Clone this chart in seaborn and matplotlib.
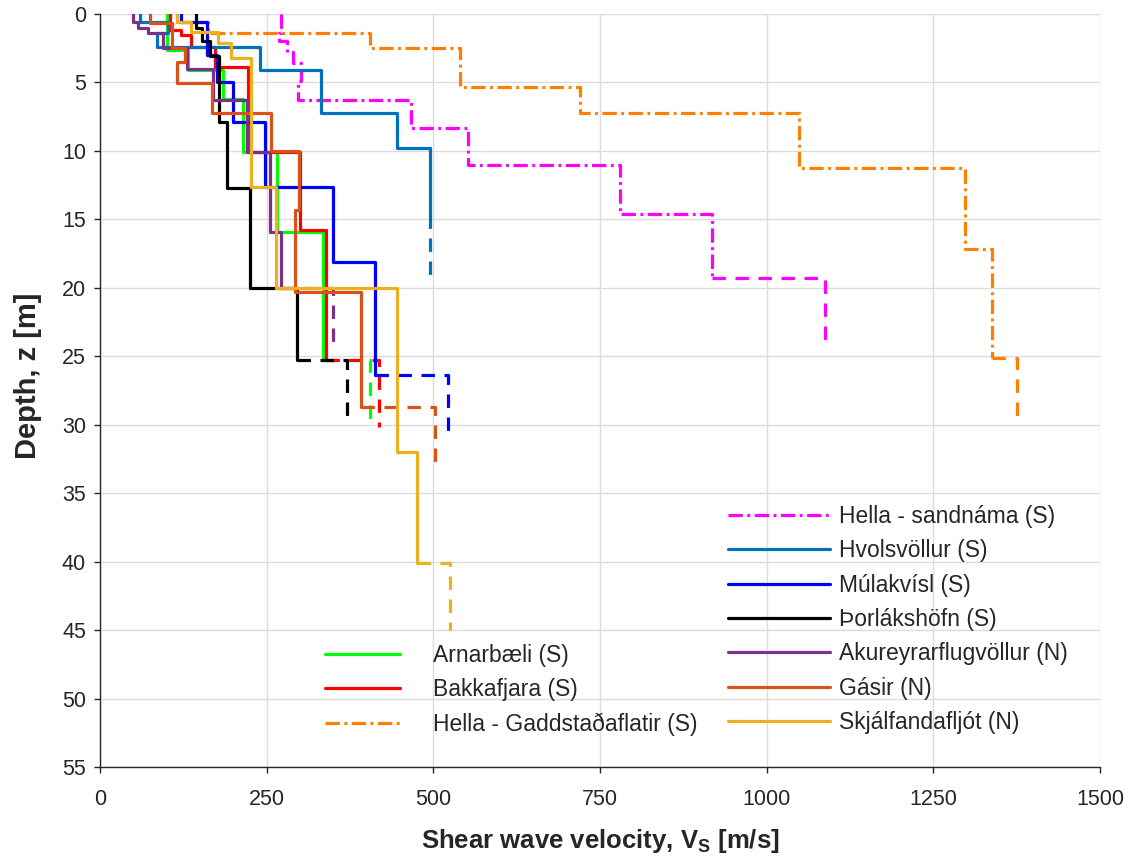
import numpy as np
import pandas as pd
import matplotlib
matplotlib.use("Agg")
import matplotlib.pyplot as plt
import seaborn as sns

# ---------------- data ----------------
names = ["Arnarbæli (S)", "Bakkafjara (S)", "Hella - Gaddstaðaflatir (S)",
         "Hella - sandnáma (S)", "Hvolsvöllur (S)", "Múlakvísl (S)", "Þorlákshöfn (S)",
         "Akureyrarflugvöllur (N)", "Gásir (N)", "Skjálfandafljót (N)"]

arn_vs = [100, 132, 184, 215, 265, 335]
arn_z = [0, 2.6, 4.1, 6.2, 10.1, 15.9, 25.3]
arn_hs = [405, 29.8]

bakk_vs = [105, 122, 137, 172, 222, 300, 339]
bakk_z = [0, 1.2, 1.5, 2.4, 3.9, 10.1, 15.8, 25.3]
bakk_hs = [419, 30.2]

gadd_vs = [115, 162, 405, 540, 720, 1049, 1298, 1338]
gadd_z = [0, 0.6, 1.4, 2.5, 5.3, 7.2, 11.25, 17.2, 25.1]
gadd_hs = [1375, 29.7]

sand_vs = [272, 269, 280, 290, 302, 297, 467, 552, 780, 918]
sand_z = [0, 1.4, 2.0, 2.8, 3.6, 4.9, 6.3, 8.35, 11.0, 14.6, 19.3]
sand_hs = [1088, 24.2]

hvol_vs = [60, 102, 85, 240, 332, 445, 495]
hvol_z = [0, 0.6, 1.4, 2.4, 4.1, 7.2, 9.8, 14.7]
hvol_hs = [495, 19.4]

mula_vs = [122, 161, 176, 200, 248, 349, 413]
mula_z = [0, 0.6, 3.0, 5.0, 7.9, 12.6, 18.1, 26.4]
mula_hs = [522, 30.7]

thor_vs = [144, 153, 165, 178, 191, 225, 295]
thor_z = [0, 1.0, 2.0, 3.1, 7.9, 12.7, 20.0, 25.3]
thor_hs = [370, 29.5]

akur_vs = [50, 57, 72, 95, 130, 170, 220, 255, 272]
akur_z = [0, 0.6, 1.0, 1.4, 2.5, 4.0, 6.3, 10.1, 15.9, 20.0]
akur_hs = [350, 24.2]

gasir_vs = [75, 108, 128, 115, 168, 257, 298, 293, 392]
gasir_z = [0, 0.65, 2.5, 3.5, 5.05, 7.2, 10.0, 14.3, 20.3, 28.7]
gasir_hs = [502, 32.9]

skj_vs = [115, 137, 177, 197, 226, 264, 445, 475]
skj_z = [0, 0.6, 1.3, 2.1, 3.2, 12.6, 20.0, 32.0, 40.1]
skj_hs = [525, 45.0]

x_ticks = [0, 250, 500, 750, 1000, 1250, 1500]
y_ticks = [0, 5, 10, 15, 20, 25, 30, 35, 40, 45, 50, 55]

# ---------------- styling ----------------
colors = ["#00FF00", "#FF0000", "#FF8000", "#FF00FF", "#0072BD", "#0000FF",
          "#000000", "#7E2F8E", "#D95319", "#EDB120"]
profiles = [(arn_vs, arn_z, arn_hs), (bakk_vs, bakk_z, bakk_hs), (gadd_vs, gadd_z, gadd_hs),
            (sand_vs, sand_z, sand_hs), (hvol_vs, hvol_z, hvol_hs), (mula_vs, mula_z, mula_hs),
            (thor_vs, thor_z, thor_hs), (akur_vs, akur_z, akur_hs), (gasir_vs, gasir_z, gasir_hs),
            (skj_vs, skj_z, skj_hs)]
dashdot = {2, 3}

sns.set_theme(style="whitegrid")
plt.rcParams["font.family"] = ["Liberation Sans", "DejaVu Sans"]
plt.rcParams["mathtext.fontset"] = "custom"
plt.rcParams["mathtext.rm"] = "Liberation Sans"
plt.rcParams["mathtext.bf"] = "Liberation Sans:bold"

fig = plt.figure(figsize=(11.35, 8.61), dpi=100)
ax = fig.add_axes([100 / 1135, 1 - 767 / 861, 1000 / 1135, 753 / 861])

lw = 2.3
for i, (vs, zb, hs) in enumerate(profiles):
    xs, ys = [], []
    for k, v in enumerate(vs):
        xs += [v, v]
        ys += [zb[k], zb[k + 1]]
    df = pd.DataFrame({"v": xs, "z": ys})
    ls_main = (0, (4.5, 1.4, 0.9, 1.4)) if i in dashdot else "-"
    sns.lineplot(data=df, x="v", y="z", sort=False, estimator=None, ax=ax,
                 color=colors[i], linewidth=lw, linestyle=ls_main, label=names[i])
    dfh = pd.DataFrame({"v": [vs[-1], hs[0], hs[0]], "z": [zb[-1], zb[-1], hs[1]]})
    sns.lineplot(data=dfh, x="v", y="z", sort=False, estimator=None, ax=ax,
                 color=colors[i], linewidth=lw, linestyle=(0, (4.2, 3.0)), legend=False)

h, l = ax.get_legend_handles_labels()
lab2h = dict(zip(l, h))
if ax.get_legend() is not None:
    ax.get_legend().remove()

ax.set_xlim(0, 1500)
ax.set_ylim(55, 0)
ax.set_xticks(x_ticks)
ax.set_yticks(y_ticks)
ax.tick_params(labelsize=15.5, colors="#262626", direction="out", length=4, width=1,
               left=True, bottom=True)
ax.tick_params(axis="x", pad=12)
ax.tick_params(axis="y", pad=6)
ax.grid(True, color="#DCDCDC", linewidth=1)
for s in ["top", "right"]:
    ax.spines[s].set_visible(False)
for s in ["left", "bottom"]:
    ax.spines[s].set_color("#262626")
    ax.spines[s].set_linewidth(1)
ax.set_xlabel(r"Shear wave velocity, V$_{\mathbf{S}}$ [m/s]", fontsize=18.5,
              fontweight="bold", color="#262626", labelpad=12)
ax.set_ylabel("Depth, z [m]", fontsize=21, fontweight="bold", color="#262626")
ax.yaxis.set_label_coords(-0.058, 0.52)

fs = 16.5
left_names = names[:3]
right_names = names[3:]
leg1 = fig.legend([lab2h[n] for n in left_names], left_names, loc="upper left",
                  bbox_to_anchor=(304 / 1135, 1 - 623 / 861), frameon=False, fontsize=fs,
                  handlelength=3.3, handletextpad=1.44, labelspacing=0.5, borderpad=0.4)
leg2 = fig.legend([lab2h[n] for n in right_names], right_names, loc="upper left",
                  bbox_to_anchor=(707 / 1135, 1 - 484 / 861), frameon=False, fontsize=fs,
                  handlelength=4.45, handletextpad=0.4, labelspacing=0.5, borderpad=0.4)
for lg in (leg1, leg2):
    for t in lg.get_texts():
        t.set_color("#262626")

fig.savefig("out.png", dpi=100)
